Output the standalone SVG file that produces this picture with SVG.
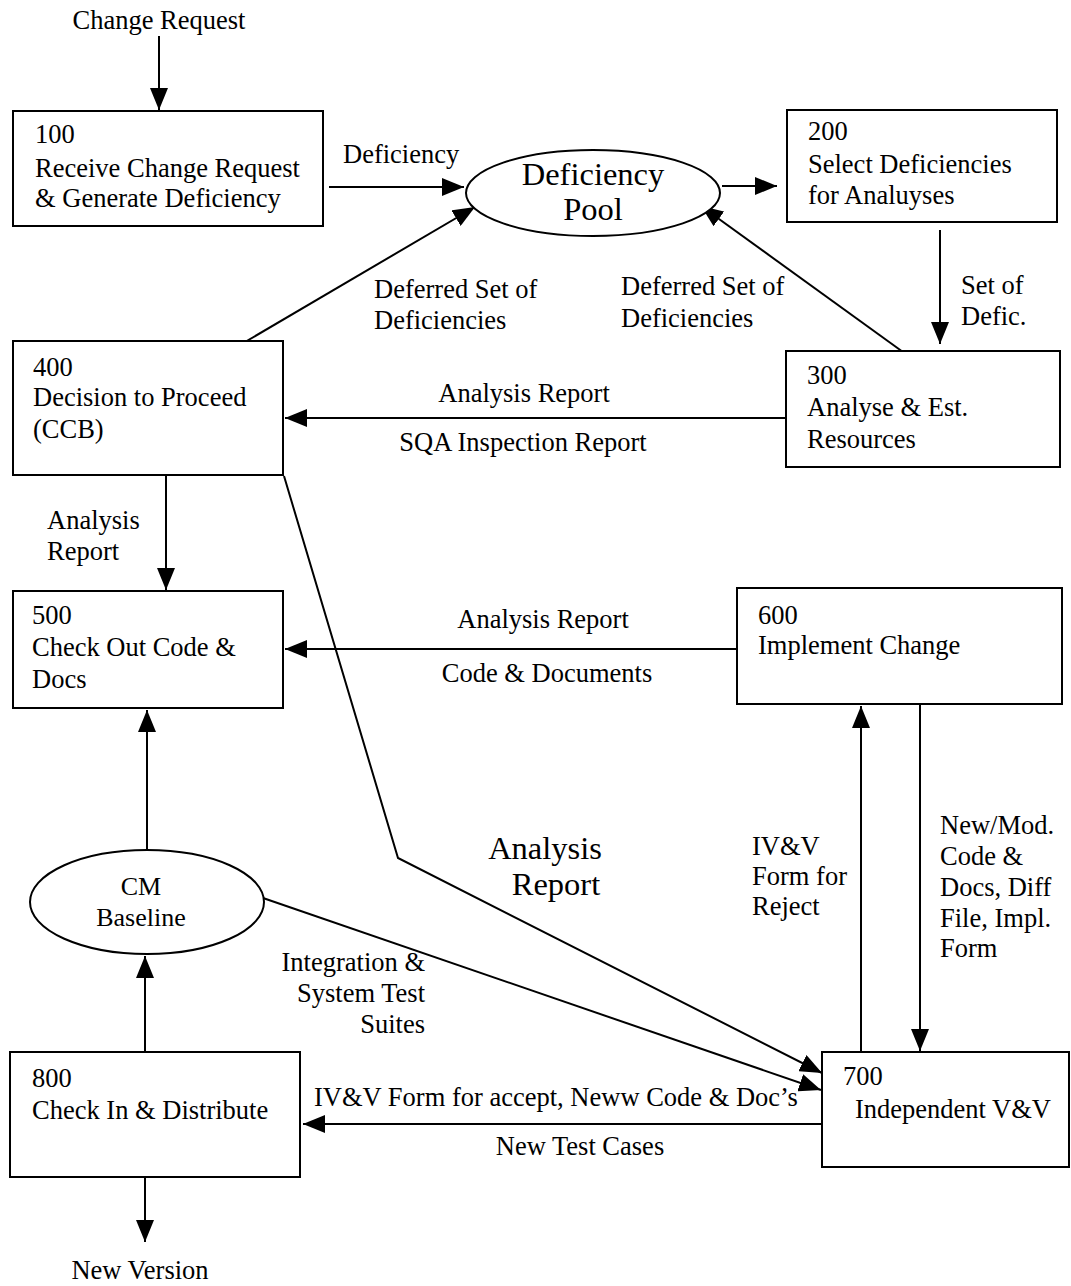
<svg xmlns="http://www.w3.org/2000/svg" width="1071" height="1286" viewBox="0 0 1071 1286">
<style>
text{font-family:"Liberation Serif","Times New Roman",serif;font-size:26.5px;fill:#000}
.big{font-size:32.5px}
.mid{text-anchor:middle}
.end{text-anchor:end}
.box{fill:#fff;stroke:#000;stroke-width:2}
.c{fill:none;stroke:#000;stroke-width:2;marker-end:url(#ah)}
</style>
<defs>
<marker id="ah" markerUnits="userSpaceOnUse" markerWidth="22" markerHeight="18" refX="22" refY="9" orient="auto">
<path d="M0,0 L22,9 L0,18 z" fill="#000"/>
</marker>
</defs>
<rect width="1071" height="1286" fill="#fff"/>
<g id="connectors">
<line class="c" x1="159" y1="36" x2="159" y2="110"/>
<line class="c" x1="329" y1="187" x2="464" y2="187"/>
<line class="c" x1="722" y1="186" x2="777" y2="186"/>
<line class="c" x1="940" y1="230" x2="940" y2="344"/>
<line class="c" x1="903" y1="352" x2="701" y2="206"/>
<line class="c" x1="245" y1="342" x2="475" y2="207"/>
<line class="c" x1="786" y1="418" x2="285" y2="418"/>
<line class="c" x1="166" y1="476" x2="166" y2="590"/>
<line class="c" x1="737" y1="649" x2="285" y2="649"/>
<polyline class="c" points="284,476 398,858 822,1073"/>
<line class="c" x1="147" y1="850" x2="147" y2="710"/>
<line class="c" x1="263" y1="898" x2="821" y2="1090"/>
<line class="c" x1="145" y1="1052" x2="145" y2="956"/>
<line class="c" x1="145" y1="1177" x2="145" y2="1242"/>
<line class="c" x1="822" y1="1124" x2="303" y2="1124"/>
<line class="c" x1="861" y1="1052" x2="861" y2="706"/>
<line class="c" x1="920" y1="705" x2="920" y2="1051"/>
<text x="159" y="29" class="mid">Change Request</text>
<text x="343" y="163">Deficiency</text>
<text x="961" y="294">Set of</text>
<text x="961" y="325">Defic.</text>
<text x="621" y="295">Deferred Set of</text>
<text x="621" y="327">Deficiencies</text>
<text x="374" y="298">Deferred Set of</text>
<text x="374" y="329">Deficiencies</text>
<text x="524" y="402" class="mid">Analysis Report</text>
<text x="523" y="451" class="mid">SQA Inspection Report</text>
<text x="47" y="529">Analysis</text>
<text x="47" y="560">Report</text>
<text x="543" y="628" class="mid">Analysis Report</text>
<text x="547" y="682" class="mid">Code &amp; Documents</text>
<text x="545" y="859" class="mid big">Analysis</text>
<text x="556" y="895" class="mid big">Report</text>
<text x="752" y="855">IV&amp;V</text>
<text x="752" y="885">Form for</text>
<text x="752" y="915">Reject</text>
<text x="940" y="834">New/Mod.</text>
<text x="940" y="865">Code &amp;</text>
<text x="940" y="896">Docs, Diff</text>
<text x="940" y="927">File, Impl.</text>
<text x="940" y="957">Form</text>
<text x="425" y="971" class="end">Integration &amp;</text>
<text x="425" y="1002" class="end">System Test</text>
<text x="425" y="1033" class="end">Suites</text>
<text x="314" y="1106">IV&amp;V Form for accept, Neww Code &amp; Doc’s</text>
<text x="580" y="1155" class="mid">New Test Cases</text>
<text x="140" y="1279" class="mid">New Version</text>
</g>
<g id="n100">
<rect class="box" x="13" y="111" width="310" height="115"/>
<text x="35" y="143">100</text>
<text x="35" y="177">Receive Change Request</text>
<text x="35" y="207">&amp; Generate Deficiency</text>
</g>
<g id="pool">
<ellipse class="box" cx="593" cy="193" rx="127" ry="43"/>
<text x="593" y="185" class="mid big">Deficiency</text>
<text x="593" y="220" class="mid big">Pool</text>
</g>
<g id="n200">
<rect class="box" x="787" y="110" width="270" height="112"/>
<text x="808" y="140">200</text>
<text x="808" y="173">Select Deficiencies</text>
<text x="808" y="204">for Analuyses</text>
</g>
<g id="n300">
<rect class="box" x="786" y="351" width="274" height="116"/>
<text x="807" y="384">300</text>
<text x="807" y="416">Analyse &amp; Est.</text>
<text x="807" y="448">Resources</text>
</g>
<g id="n400">
<rect class="box" x="13" y="341" width="270" height="134"/>
<text x="33" y="376">400</text>
<text x="33" y="406">Decision to Proceed</text>
<text x="33" y="438">(CCB)</text>
</g>
<g id="n500">
<rect class="box" x="13" y="591" width="270" height="117"/>
<text x="32" y="624">500</text>
<text x="32" y="656">Check Out Code &amp;</text>
<text x="32" y="688">Docs</text>
</g>
<g id="n600">
<rect class="box" x="737" y="588" width="325" height="116"/>
<text x="758" y="624">600</text>
<text x="758" y="654">Implement Change</text>
</g>
<g id="cm">
<ellipse class="box" cx="147" cy="902" rx="117" ry="52"/>
<text x="141" y="895" class="mid" style="font-size:26px">CM</text>
<text x="141" y="926" class="mid" style="font-size:26px">Baseline</text>
</g>
<g id="n700">
<rect class="box" x="822" y="1052" width="247" height="115"/>
<text x="843" y="1085">700</text>
<text x="855" y="1118">Independent V&amp;V</text>
</g>
<g id="n800">
<rect class="box" x="10" y="1052" width="290" height="125"/>
<text x="32" y="1087">800</text>
<text x="32" y="1119">Check In &amp; Distribute</text>
</g>
</svg>
